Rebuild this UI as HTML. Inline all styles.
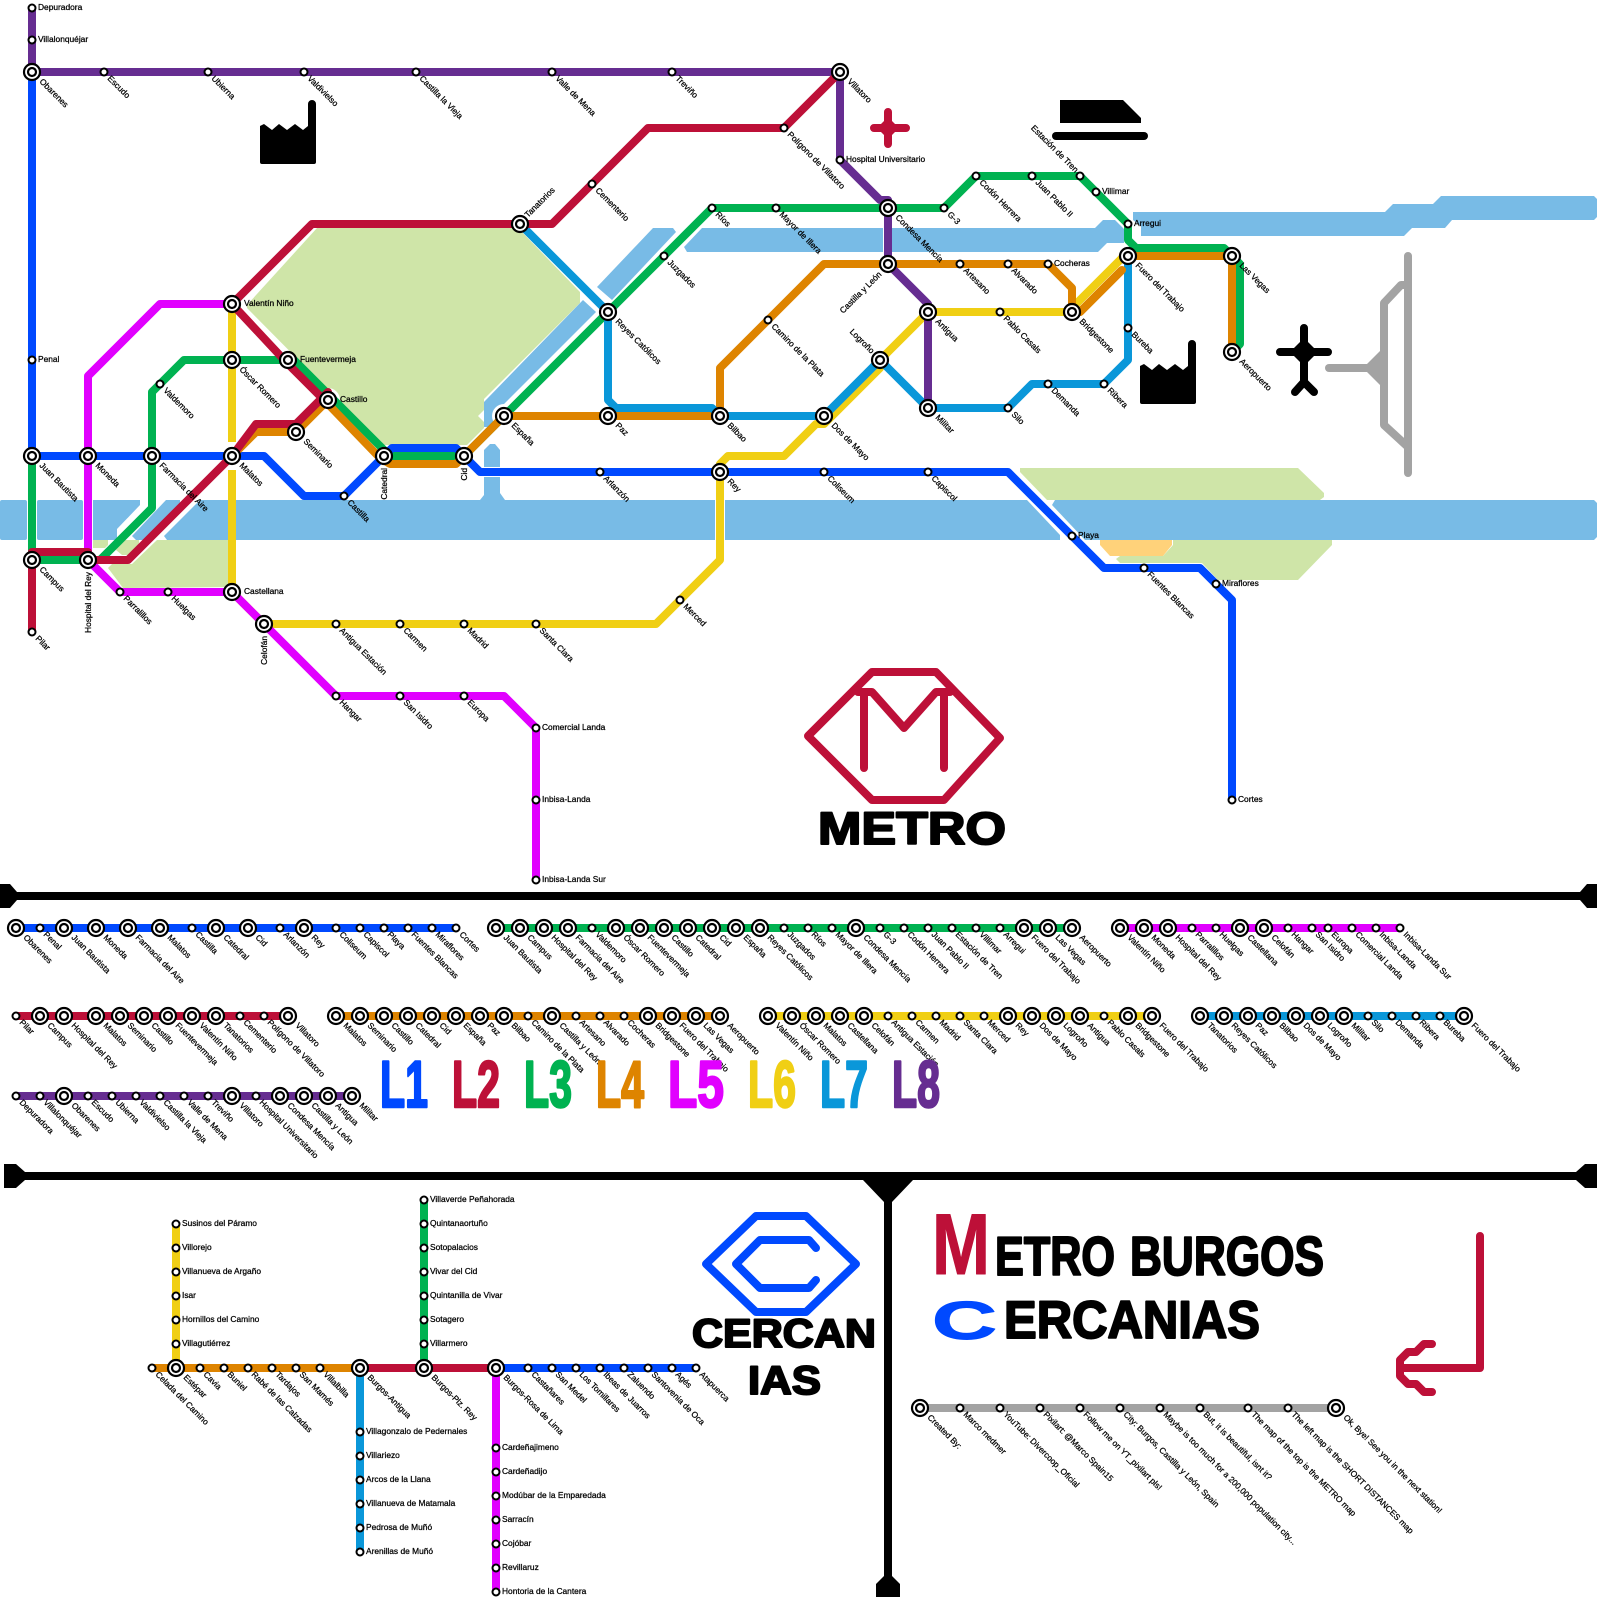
<!DOCTYPE html>
<html lang="es"><head><meta charset="utf-8"><title>Metro Burgos</title>
<style>
html,body{margin:0;padding:0;background:#fff}
svg{display:block}
.l{font-family:"Liberation Sans",sans-serif;font-size:8.4px;fill:#000;stroke:#000;stroke-width:.25px}
.e{text-anchor:end}
.t{font-family:"Liberation Sans",sans-serif;font-weight:bold;stroke-linejoin:round}
path.k{fill:none;stroke-width:8;stroke-linejoin:round;stroke-linecap:round}
</style></head><body>
<svg xmlns="http://www.w3.org/2000/svg" width="1600" height="1600" viewBox="0 0 1600 1600">
<defs>
<g id="b"><circle r="8" fill="#fff" stroke="#000" stroke-width="2.2"/><circle r="4" fill="#fff" stroke="#000" stroke-width="2.2"/></g>
<circle id="s" r="3.5" fill="#fff" stroke="#000" stroke-width="2"/>
<path id="fac" d="M0,62V26L4,24L12,30L19,24L27,30L35,24L43,30L48,26V4a4,4 0 0 1 8,0V62a2,2 0 0 1 -2,2H2a2,2 0 0 1 -2,-2Z"/>
</defs>
<rect width="1600" height="1600" fill="#fff"/>

<!-- parks -->
<g fill="#cfe5a8">
<polygon points="247,305 317,228 518,228 580,292 580,303 484,399 484,428 467,445 383,445 340,402 247,308"/>
<polygon points="157,540 228,540 228,587 123,588 108,568 112,564 132,564"/>
<polygon points="93,540 108,540 108,545 105,548 93,548"/>
<polygon points="123,540 139,540 139,543 133,555 122,555 116,550"/>
<polygon points="1020,468 1298,468 1324,493 1324,497 1320,500 1047,500 1020,472"/>
<polygon points="1173,540 1332,540 1332,545 1298,580 1218,580 1202,563 1120,563 1116,559 1120,556 1163,556 1173,545"/>
</g>
<polygon fill="#ffd27a" points="1100,540 1172,540 1172,545 1163,556 1110,556 1100,545"/>
<!-- water -->
<g fill="#78bbe6">
<rect x="0" y="500" width="27" height="40" rx="2"/>
<rect x="37" y="500" width="46" height="40" rx="2"/>
<polygon points="93,500 140,500 140,505 117,529 117,540 93,540"/>
<polygon points="166,500 180,500 180,503 147,537 143,540 136,540 132,536"/>
<polygon points="200,500 228,500 228,540 167,540 164,536"/>
<polygon points="236,500 480,500 484,495 484,477 500,477 500,493 505,500 715,500 715,540 236,540"/>
<rect x="725" y="500" width="302" height="40"/>
<polygon points="1027,500 1060,535 1060,540 725,540 725,500"/>
<polygon points="1055,500 1594,500 1597,503 1597,537 1594,540 1085,540 1052,505"/>
<polygon points="490,444 495,444 500,450 500,467 484,467 484,450"/>
<polygon points="583,300 596,312 504,404 490,427 484,427 484,402"/>
<polygon points="653,228 673,228 676,232 612,300 597,287"/>
<polygon points="702,228 883,228 883,252 687,252 684,247"/>
<polygon points="892,228 1095,228 1103,220 1115,220 1124,229 1124,243 1107,243 1098,252 892,252"/>
<polygon points="1133,212 1385,212 1393,204 1433,204 1441,196 1594,196 1597,199 1597,217 1594,220 1452,220 1445,228 1412,228 1404,236 1141,236 1141,226 1133,220"/>
</g>
<polygon fill="#fff" points="478,416 484,410 484,422"/>
<circle cx="328" cy="400" r="12" fill="#fff"/>
<circle cx="504" cy="416" r="12" fill="#fff"/>

<!-- icons -->
<use href="#fac" x="260" y="100"/>
<use href="#fac" x="1140" y="340"/>
<polygon points="1060,100 1123,100 1141,118 1141,123 1060,123"/>
<path class="k" stroke="#000" d="M1056,136H1144"/>
<path class="k" stroke="#bd1038" d="M888,112V144M874,128H906"/>
<polygon points="888,117 899,128 888,139 877,128" fill="#bd1038"/>
<path class="k" stroke="#000" d="M1304,328V382M1280,352H1328M1295,392L1304,382L1314,392"/>
<polygon points="1304,338 1318,352 1304,366 1290,352"/>
<g stroke="#a3a3a3" fill="none" stroke-width="8" stroke-linecap="round" stroke-linejoin="round">
<path d="M1408,256V473M1408,285H1401L1384,303V425L1408,447"/>
<path d="M1329,368H1370"/>
</g>
<polygon fill="#a3a3a3" points="1367,364 1381,350 1381,386 1367,372"/>

<!-- main lines -->
<g fill="none" stroke-width="8" stroke-linejoin="round">
<path stroke="#f0cf14" d="M232,304V442M232,470V592L264,624H656L720,560V464L728,456H784L816,424H824L880,368V360L928,312H1072V308L1124,256"/>
<path stroke="#e100ff" d="M232,304H160L88,376V560L120,592H232L336,696H504L536,728V880"/>
<path stroke="#00b251" d="M32,456V560H100L152,508V392L184,360H288H294L384,450L392,456H456L464,456L608,312L712,208H944L976,176H1080L1128,224V240L1136,248H1224L1240,264V344L1232,352"/>
<path stroke="#0049ff" d="M32,72V456H264L304,496H344L384,456L392,448H456L464,456L480,472H1008L1104,568H1200L1232,600V800"/>
<path stroke="#de8400" d="M232,456L256,432H296L326,402L380,458L390,464H456L464,456L504,416H720V368L824,264H1048L1072,288V312H1080L1122,270"/>
<path stroke="#de8400" d="M1128,256H1232V352"/>
<path stroke="#0a97d9" d="M520,224L608,312V400L616,408H712L720,416H824L880,360L928,408H1008L1032,384H1104L1128,360V256"/>
<path stroke="#662d91" d="M32,8V72H840V160L880,200H888V264L928,304V408"/>
<path stroke="#bd1038" d="M32,632V552H88V560H128L232,456L256,424H296L328,392V400L320,396L288,364L232,304L312,224H552L648,128H784L840,72"/>
</g>
<g stroke-linecap="round" fill="none" stroke-width="8"><path stroke="#de8400" d="M1080,312L1122,270"/></g>

<!-- main stations -->
<g>
<use href="#b" x="32" y="72"/><use href="#b" x="32" y="456"/><use href="#b" x="88" y="456"/><use href="#b" x="152" y="456"/><use href="#b" x="232" y="456"/><use href="#b" x="232" y="304"/><use href="#b" x="232" y="360"/><use href="#b" x="288" y="360"/><use href="#b" x="328" y="400"/><use href="#b" x="296" y="432"/><use href="#b" x="384" y="456"/><use href="#b" x="464" y="456"/><use href="#b" x="32" y="560"/><use href="#b" x="88" y="560"/><use href="#b" x="232" y="592"/><use href="#b" x="264" y="624"/><use href="#b" x="520" y="224"/><use href="#b" x="608" y="312"/><use href="#b" x="504" y="416"/><use href="#b" x="608" y="416"/><use href="#b" x="720" y="416"/><use href="#b" x="824" y="416"/><use href="#b" x="880" y="360"/><use href="#b" x="928" y="408"/><use href="#b" x="928" y="312"/><use href="#b" x="888" y="208"/><use href="#b" x="888" y="264"/><use href="#b" x="840" y="72"/><use href="#b" x="720" y="472"/><use href="#b" x="1072" y="312"/><use href="#b" x="1128" y="256"/><use href="#b" x="1232" y="256"/><use href="#b" x="1232" y="352"/>
<use href="#s" x="32" y="8"/><use href="#s" x="32" y="40"/><use href="#s" x="32" y="360"/><use href="#s" x="104" y="72"/><use href="#s" x="208" y="72"/><use href="#s" x="304" y="72"/><use href="#s" x="416" y="72"/><use href="#s" x="552" y="72"/><use href="#s" x="672" y="72"/><use href="#s" x="160" y="384"/><use href="#s" x="344" y="496"/><use href="#s" x="32" y="632"/><use href="#s" x="120" y="592"/><use href="#s" x="168" y="592"/><use href="#s" x="336" y="624"/><use href="#s" x="400" y="624"/><use href="#s" x="464" y="624"/><use href="#s" x="536" y="624"/><use href="#s" x="680" y="600"/><use href="#s" x="336" y="696"/><use href="#s" x="400" y="696"/><use href="#s" x="464" y="696"/><use href="#s" x="536" y="728"/><use href="#s" x="536" y="800"/><use href="#s" x="536" y="880"/><use href="#s" x="600" y="472"/><use href="#s" x="824" y="472"/><use href="#s" x="928" y="472"/><use href="#s" x="1072" y="536"/><use href="#s" x="1144" y="568"/><use href="#s" x="1216" y="584"/><use href="#s" x="1232" y="800"/><use href="#s" x="592" y="184"/><use href="#s" x="784" y="128"/><use href="#s" x="840" y="160"/><use href="#s" x="664" y="256"/><use href="#s" x="712" y="208"/><use href="#s" x="776" y="208"/><use href="#s" x="944" y="208"/><use href="#s" x="976" y="176"/><use href="#s" x="1032" y="176"/><use href="#s" x="1080" y="176"/><use href="#s" x="1096" y="192"/><use href="#s" x="1128" y="224"/><use href="#s" x="960" y="264"/><use href="#s" x="1008" y="264"/><use href="#s" x="1048" y="264"/><use href="#s" x="768" y="320"/><use href="#s" x="1000" y="312"/><use href="#s" x="1008" y="408"/><use href="#s" x="1048" y="384"/><use href="#s" x="1104" y="384"/><use href="#s" x="1128" y="328"/>
</g>
<!-- main labels -->
<g class="l">
<text x="38" y="10">Depuradora</text><text x="38" y="42">Villalonquéjar</text><text x="38" y="362">Penal</text>
<text x="846" y="162">Hospital Universitario</text><text x="1102" y="194">Villimar</text><text x="1134" y="226">Arregui</text><text x="1054" y="266">Cocheras</text><text x="1078" y="538">Playa</text><text x="1222" y="586">Miraflores</text><text x="542" y="730">Comercial Landa</text><text x="542" y="802">Inbisa-Landa</text><text x="542" y="882">Inbisa-Landa Sur</text><text x="1238" y="802">Cortes</text>
<text x="244" y="306">Valentín Niño</text><text x="300" y="362">Fuentevermeja</text><text x="340" y="402">Castillo</text><text x="244" y="594">Castellana</text>
<text class="e" transform="translate(91,572) rotate(-90)">Hospital del Rey</text><text class="e" transform="translate(387,468) rotate(-90)">Catedral</text><text class="e" transform="translate(467,468) rotate(-90)">Cid</text><text class="e" transform="translate(267,636) rotate(-90)">Celofán</text>
<text transform="translate(528,218) rotate(-45)">Tanatorios</text>
<text class="e" transform="translate(882,275) rotate(-45)">Castilla y León</text>
<text class="e" transform="translate(871,354) rotate(45)">Logroño</text>
<text class="e" transform="translate(1075,173) rotate(45)">Estación de Tren</text>
<text transform="translate(39,82) rotate(45)">Obarenes</text><text transform="translate(39,466) rotate(45)">Juan Bautista</text><text transform="translate(95,466) rotate(45)">Moneda</text><text transform="translate(159,466) rotate(45)">Farmacia del Aire</text><text transform="translate(239,466) rotate(45)">Malatos</text><text transform="translate(303,442) rotate(45)">Seminario</text><text transform="translate(239,370) rotate(45)">Óscar Romero</text><text transform="translate(39,570) rotate(45)">Campus</text><text transform="translate(615,322) rotate(45)">Reyes Católicos</text><text transform="translate(511,426) rotate(45)">España</text><text transform="translate(615,426) rotate(45)">Paz</text><text transform="translate(727,426) rotate(45)">Bilbao</text><text transform="translate(831,426) rotate(45)">Dos de Mayo</text><text transform="translate(935,418) rotate(45)">Militar</text><text transform="translate(935,322) rotate(45)">Antigua</text><text transform="translate(895,218) rotate(45)">Condesa Mencía</text><text transform="translate(847,82) rotate(45)">Villatoro</text><text transform="translate(727,482) rotate(45)">Rey</text><text transform="translate(1079,322) rotate(45)">Bridgestone</text><text transform="translate(1135,266) rotate(45)">Fuero del Trabajo</text><text transform="translate(1239,266) rotate(45)">Las Vegas</text><text transform="translate(1239,362) rotate(45)">Aeropuerto</text>
<text transform="translate(107,79) rotate(45)">Escudo</text><text transform="translate(211,79) rotate(45)">Ubierna</text><text transform="translate(307,79) rotate(45)">Valdivielso</text><text transform="translate(419,79) rotate(45)">Castilla la Vieja</text><text transform="translate(555,79) rotate(45)">Valle de Mena</text><text transform="translate(675,79) rotate(45)">Treviño</text><text transform="translate(163,391) rotate(45)">Valdemoro</text><text transform="translate(347,503) rotate(45)">Castilla</text><text transform="translate(35,639) rotate(45)">Pilar</text><text transform="translate(123,599) rotate(45)">Parralillos</text><text transform="translate(171,599) rotate(45)">Huelgas</text><text transform="translate(339,631) rotate(45)">Antigua Estación</text><text transform="translate(403,631) rotate(45)">Carmen</text><text transform="translate(467,631) rotate(45)">Madrid</text><text transform="translate(539,631) rotate(45)">Santa Clara</text><text transform="translate(683,607) rotate(45)">Merced</text><text transform="translate(339,703) rotate(45)">Hangar</text><text transform="translate(403,703) rotate(45)">San Isidro</text><text transform="translate(467,703) rotate(45)">Europa</text><text transform="translate(603,479) rotate(45)">Arlanzón</text><text transform="translate(827,479) rotate(45)">Coliseum</text><text transform="translate(931,479) rotate(45)">Capiscol</text><text transform="translate(1147,575) rotate(45)">Fuentes Blancas</text><text transform="translate(595,191) rotate(45)">Cementerio</text><text transform="translate(787,135) rotate(45)">Polígono de Villatoro</text><text transform="translate(667,263) rotate(45)">Juzgados</text><text transform="translate(715,215) rotate(45)">Ríos</text><text transform="translate(779,215) rotate(45)">Mayor de Illera</text><text transform="translate(947,215) rotate(45)">G-3</text><text transform="translate(979,183) rotate(45)">Codón Herrera</text><text transform="translate(1035,183) rotate(45)">Juan Pablo II</text><text transform="translate(963,271) rotate(45)">Artesano</text><text transform="translate(1011,271) rotate(45)">Alvarado</text><text transform="translate(771,327) rotate(45)">Camino de la Plata</text><text transform="translate(1003,319) rotate(45)">Pablo Casals</text><text transform="translate(1011,415) rotate(45)">Silo</text><text transform="translate(1051,391) rotate(45)">Demanda</text><text transform="translate(1107,391) rotate(45)">Ribera</text><text transform="translate(1131,335) rotate(45)">Bureba</text>
</g>

<!-- Metro logo -->
<path class="k" stroke="#bd1038" d="M872,672H936L1000,738L944,800H872L808,736ZM864,768V692H872L904,728L936,692H944V768M858,692H864M944,692H950"/>
<text class="t" x="818" y="844" font-size="45" stroke="#000" stroke-width="2" textLength="188" lengthAdjust="spacingAndGlyphs">METRO</text>

<!-- dividers -->
<g fill="#000">
<rect x="0" y="892" width="1590" height="8"/>
<polygon points="0,884 10,884 17,892 17,900 10,908 0,908"/>
<polygon points="1597,884 1587,884 1580,892 1580,900 1587,908 1597,908"/>
<rect x="4" y="1172" width="1592" height="8"/>
<polygon points="4,1164 16,1164 25,1172 25,1180 16,1188 4,1188"/>
<polygon points="1597,1164 1585,1164 1576,1172 1576,1180 1585,1188 1597,1188"/>
<polygon points="863,1180 913,1180 892,1202 892,1576 900,1584 900,1597 876,1597 876,1584 884,1576 884,1202"/>
</g>

<!-- strips -->
<g fill="none" stroke-width="8">
<path stroke="#0049ff" d="M16,928H456"/>
<path stroke="#00b251" d="M496,928H1072"/>
<path stroke="#e100ff" d="M1120,928H1400"/>
<path stroke="#bd1038" d="M16,1016H288"/>
<path stroke="#de8400" d="M336,1016H720"/>
<path stroke="#f0cf14" d="M768,1016H1152"/>
<path stroke="#0a97d9" d="M1200,1016H1464"/>
<path stroke="#662d91" d="M16,1096H352"/>
<path stroke="#de8400" d="M152,1368H360"/>
<path stroke="#f0cf14" d="M176,1224V1368"/>
<path stroke="#bd1038" d="M360,1368H496"/>
<path stroke="#00b251" d="M424,1200V1368"/>
<path stroke="#0049ff" d="M496,1368H696"/>
<path stroke="#0a97d9" d="M360,1368V1552"/>
<path stroke="#e100ff" d="M496,1368V1592"/>
<path stroke="#a3a3a3" d="M920,1408H1336"/>
</g>
<g>
<use href="#b" x="16" y="928"/><use href="#s" x="40" y="928"/><use href="#b" x="64" y="928"/><use href="#b" x="96" y="928"/><use href="#b" x="128" y="928"/><use href="#b" x="160" y="928"/><use href="#s" x="192" y="928"/><use href="#b" x="216" y="928"/><use href="#b" x="248" y="928"/><use href="#s" x="280" y="928"/><use href="#b" x="304" y="928"/><use href="#s" x="336" y="928"/><use href="#s" x="360" y="928"/><use href="#s" x="384" y="928"/><use href="#s" x="408" y="928"/><use href="#s" x="432" y="928"/><use href="#s" x="456" y="928"/>
<use href="#b" x="496" y="928"/><use href="#b" x="520" y="928"/><use href="#b" x="544" y="928"/><use href="#b" x="568" y="928"/><use href="#s" x="592" y="928"/><use href="#b" x="616" y="928"/><use href="#b" x="640" y="928"/><use href="#b" x="664" y="928"/><use href="#b" x="688" y="928"/><use href="#b" x="712" y="928"/><use href="#b" x="736" y="928"/><use href="#b" x="760" y="928"/><use href="#s" x="784" y="928"/><use href="#s" x="808" y="928"/><use href="#s" x="832" y="928"/><use href="#b" x="856" y="928"/><use href="#s" x="880" y="928"/><use href="#s" x="904" y="928"/><use href="#s" x="928" y="928"/><use href="#s" x="952" y="928"/><use href="#s" x="976" y="928"/><use href="#s" x="1000" y="928"/><use href="#b" x="1024" y="928"/><use href="#b" x="1048" y="928"/><use href="#b" x="1072" y="928"/>
<use href="#b" x="1120" y="928"/><use href="#b" x="1144" y="928"/><use href="#b" x="1168" y="928"/><use href="#s" x="1192" y="928"/><use href="#s" x="1216" y="928"/><use href="#b" x="1240" y="928"/><use href="#b" x="1264" y="928"/><use href="#s" x="1288" y="928"/><use href="#s" x="1312" y="928"/><use href="#s" x="1328" y="928"/><use href="#s" x="1352" y="928"/><use href="#s" x="1376" y="928"/><use href="#s" x="1400" y="928"/>
<use href="#s" x="16" y="1016"/><use href="#b" x="40" y="1016"/><use href="#b" x="64" y="1016"/><use href="#b" x="96" y="1016"/><use href="#b" x="120" y="1016"/><use href="#b" x="144" y="1016"/><use href="#b" x="168" y="1016"/><use href="#b" x="192" y="1016"/><use href="#b" x="216" y="1016"/><use href="#s" x="240" y="1016"/><use href="#s" x="264" y="1016"/><use href="#b" x="288" y="1016"/>
<use href="#b" x="336" y="1016"/><use href="#b" x="360" y="1016"/><use href="#b" x="384" y="1016"/><use href="#b" x="408" y="1016"/><use href="#b" x="432" y="1016"/><use href="#b" x="456" y="1016"/><use href="#b" x="480" y="1016"/><use href="#b" x="504" y="1016"/><use href="#s" x="528" y="1016"/><use href="#b" x="552" y="1016"/><use href="#s" x="576" y="1016"/><use href="#s" x="600" y="1016"/><use href="#s" x="624" y="1016"/><use href="#b" x="648" y="1016"/><use href="#b" x="672" y="1016"/><use href="#b" x="696" y="1016"/><use href="#b" x="720" y="1016"/>
<use href="#b" x="768" y="1016"/><use href="#b" x="792" y="1016"/><use href="#b" x="816" y="1016"/><use href="#b" x="840" y="1016"/><use href="#b" x="864" y="1016"/><use href="#s" x="888" y="1016"/><use href="#s" x="912" y="1016"/><use href="#s" x="936" y="1016"/><use href="#s" x="960" y="1016"/><use href="#s" x="984" y="1016"/><use href="#b" x="1008" y="1016"/><use href="#b" x="1032" y="1016"/><use href="#b" x="1056" y="1016"/><use href="#b" x="1080" y="1016"/><use href="#s" x="1104" y="1016"/><use href="#b" x="1128" y="1016"/><use href="#b" x="1152" y="1016"/>
<use href="#b" x="1200" y="1016"/><use href="#b" x="1224" y="1016"/><use href="#b" x="1248" y="1016"/><use href="#b" x="1272" y="1016"/><use href="#b" x="1296" y="1016"/><use href="#b" x="1320" y="1016"/><use href="#b" x="1344" y="1016"/><use href="#s" x="1368" y="1016"/><use href="#s" x="1392" y="1016"/><use href="#s" x="1416" y="1016"/><use href="#s" x="1440" y="1016"/><use href="#b" x="1464" y="1016"/>
<use href="#s" x="16" y="1096"/><use href="#s" x="40" y="1096"/><use href="#b" x="64" y="1096"/><use href="#s" x="88" y="1096"/><use href="#s" x="112" y="1096"/><use href="#s" x="136" y="1096"/><use href="#s" x="160" y="1096"/><use href="#s" x="184" y="1096"/><use href="#s" x="208" y="1096"/><use href="#b" x="232" y="1096"/><use href="#s" x="256" y="1096"/><use href="#b" x="280" y="1096"/><use href="#b" x="304" y="1096"/><use href="#b" x="328" y="1096"/><use href="#b" x="352" y="1096"/>
<use href="#s" x="152" y="1368"/><use href="#b" x="176" y="1368"/><use href="#s" x="200" y="1368"/><use href="#s" x="224" y="1368"/><use href="#s" x="248" y="1368"/><use href="#s" x="272" y="1368"/><use href="#s" x="296" y="1368"/><use href="#s" x="320" y="1368"/><use href="#b" x="360" y="1368"/><use href="#b" x="424" y="1368"/><use href="#b" x="496" y="1368"/><use href="#s" x="528" y="1368"/><use href="#s" x="552" y="1368"/><use href="#s" x="576" y="1368"/><use href="#s" x="600" y="1368"/><use href="#s" x="624" y="1368"/><use href="#s" x="648" y="1368"/><use href="#s" x="672" y="1368"/><use href="#s" x="696" y="1368"/>
<use href="#s" x="176" y="1224"/><use href="#s" x="176" y="1248"/><use href="#s" x="176" y="1272"/><use href="#s" x="176" y="1296"/><use href="#s" x="176" y="1320"/><use href="#s" x="176" y="1344"/>
<use href="#s" x="424" y="1200"/><use href="#s" x="424" y="1224"/><use href="#s" x="424" y="1248"/><use href="#s" x="424" y="1272"/><use href="#s" x="424" y="1296"/><use href="#s" x="424" y="1320"/><use href="#s" x="424" y="1344"/>
<use href="#s" x="360" y="1432"/><use href="#s" x="360" y="1456"/><use href="#s" x="360" y="1480"/><use href="#s" x="360" y="1504"/><use href="#s" x="360" y="1528"/><use href="#s" x="360" y="1552"/>
<use href="#s" x="496" y="1448"/><use href="#s" x="496" y="1472"/><use href="#s" x="496" y="1496"/><use href="#s" x="496" y="1520"/><use href="#s" x="496" y="1544"/><use href="#s" x="496" y="1568"/><use href="#s" x="496" y="1592"/>
<use href="#b" x="920" y="1408"/><use href="#s" x="960" y="1408"/><use href="#s" x="1000" y="1408"/><use href="#s" x="1040" y="1408"/><use href="#s" x="1080" y="1408"/><use href="#s" x="1120" y="1408"/><use href="#s" x="1160" y="1408"/><use href="#s" x="1200" y="1408"/><use href="#s" x="1248" y="1408"/><use href="#s" x="1288" y="1408"/><use href="#b" x="1336" y="1408"/>
</g>
<g class="l">
<!-- L1 -->
<text transform="translate(23,938) rotate(45)">Obarenes</text><text transform="translate(43,935) rotate(45)">Penal</text><text transform="translate(71,938) rotate(45)">Juan Bautista</text><text transform="translate(103,938) rotate(45)">Moneda</text><text transform="translate(135,938) rotate(45)">Farmacia del Aire</text><text transform="translate(167,938) rotate(45)">Malatos</text><text transform="translate(195,935) rotate(45)">Castilla</text><text transform="translate(223,938) rotate(45)">Catedral</text><text transform="translate(255,938) rotate(45)">Cid</text><text transform="translate(283,935) rotate(45)">Arlanzón</text><text transform="translate(311,938) rotate(45)">Rey</text><text transform="translate(339,935) rotate(45)">Coliseum</text><text transform="translate(363,935) rotate(45)">Capiscol</text><text transform="translate(387,935) rotate(45)">Playa</text><text transform="translate(411,935) rotate(45)">Fuentes Blancas</text><text transform="translate(435,935) rotate(45)">Miraflores</text><text transform="translate(459,935) rotate(45)">Cortes</text>
<!-- L3 -->
<text transform="translate(503,938) rotate(45)">Juan Bautista</text><text transform="translate(527,938) rotate(45)">Campus</text><text transform="translate(551,938) rotate(45)">Hospital del Rey</text><text transform="translate(575,938) rotate(45)">Farmacia del Aire</text><text transform="translate(595,935) rotate(45)">Valdemoro</text><text transform="translate(623,938) rotate(45)">Óscar Romero</text><text transform="translate(647,938) rotate(45)">Fuentevermeja</text><text transform="translate(671,938) rotate(45)">Castillo</text><text transform="translate(695,938) rotate(45)">Catedral</text><text transform="translate(719,938) rotate(45)">Cid</text><text transform="translate(743,938) rotate(45)">España</text><text transform="translate(767,938) rotate(45)">Reyes Católicos</text><text transform="translate(787,935) rotate(45)">Juzgados</text><text transform="translate(811,935) rotate(45)">Ríos</text><text transform="translate(835,935) rotate(45)">Mayor de Illera</text><text transform="translate(863,938) rotate(45)">Condesa Mencía</text><text transform="translate(883,935) rotate(45)">G-3</text><text transform="translate(907,935) rotate(45)">Codón Herrera</text><text transform="translate(931,935) rotate(45)">Juan Pablo II</text><text transform="translate(955,935) rotate(45)">Estación de Tren</text><text transform="translate(979,935) rotate(45)">Villimar</text><text transform="translate(1003,935) rotate(45)">Arregui</text><text transform="translate(1031,938) rotate(45)">Fuero del Trabajo</text><text transform="translate(1055,938) rotate(45)">Las Vegas</text><text transform="translate(1079,938) rotate(45)">Aeropuerto</text>
<!-- L5 -->
<text transform="translate(1127,938) rotate(45)">Valentín Niño</text><text transform="translate(1151,938) rotate(45)">Moneda</text><text transform="translate(1175,938) rotate(45)">Hospital del Rey</text><text transform="translate(1195,935) rotate(45)">Parralillos</text><text transform="translate(1219,935) rotate(45)">Huelgas</text><text transform="translate(1247,938) rotate(45)">Castellana</text><text transform="translate(1271,938) rotate(45)">Celofán</text><text transform="translate(1291,935) rotate(45)">Hangar</text><text transform="translate(1315,935) rotate(45)">San Isidro</text><text transform="translate(1331,935) rotate(45)">Europa</text><text transform="translate(1355,935) rotate(45)">Comercial Landa</text><text transform="translate(1379,935) rotate(45)">Inbisa-Landa</text><text transform="translate(1403,935) rotate(45)">Inbisa-Landa Sur</text>
<!-- L2 -->
<text transform="translate(19,1023) rotate(45)">Pilar</text><text transform="translate(47,1026) rotate(45)">Campus</text><text transform="translate(71,1026) rotate(45)">Hospital del Rey</text><text transform="translate(103,1026) rotate(45)">Malatos</text><text transform="translate(127,1026) rotate(45)">Seminario</text><text transform="translate(151,1026) rotate(45)">Castillo</text><text transform="translate(175,1026) rotate(45)">Fuentevermeja</text><text transform="translate(199,1026) rotate(45)">Valentín Niño</text><text transform="translate(223,1026) rotate(45)">Tanatorios</text><text transform="translate(243,1023) rotate(45)">Cementerio</text><text transform="translate(267,1023) rotate(45)">Polígono de Villatoro</text><text transform="translate(295,1026) rotate(45)">Villatoro</text>
<!-- L4 -->
<text transform="translate(343,1026) rotate(45)">Malatos</text><text transform="translate(367,1026) rotate(45)">Seminario</text><text transform="translate(391,1026) rotate(45)">Castillo</text><text transform="translate(415,1026) rotate(45)">Catedral</text><text transform="translate(439,1026) rotate(45)">Cid</text><text transform="translate(463,1026) rotate(45)">España</text><text transform="translate(487,1026) rotate(45)">Paz</text><text transform="translate(511,1026) rotate(45)">Bilbao</text><text transform="translate(531,1023) rotate(45)">Camino de la Plata</text><text transform="translate(559,1026) rotate(45)">Castilla y León</text><text transform="translate(579,1023) rotate(45)">Artesano</text><text transform="translate(603,1023) rotate(45)">Alvarado</text><text transform="translate(627,1023) rotate(45)">Cocheras</text><text transform="translate(655,1026) rotate(45)">Bridgestone</text><text transform="translate(679,1026) rotate(45)">Fuero del Trabajo</text><text transform="translate(703,1026) rotate(45)">Las Vegas</text><text transform="translate(727,1026) rotate(45)">Aeropuerto</text>
<!-- L6 -->
<text transform="translate(775,1026) rotate(45)">Valentín Niño</text><text transform="translate(799,1026) rotate(45)">Óscar Romero</text><text transform="translate(823,1026) rotate(45)">Malatos</text><text transform="translate(847,1026) rotate(45)">Castellana</text><text transform="translate(871,1026) rotate(45)">Celofán</text><text transform="translate(891,1023) rotate(45)">Antigua Estación</text><text transform="translate(915,1023) rotate(45)">Carmen</text><text transform="translate(939,1023) rotate(45)">Madrid</text><text transform="translate(963,1023) rotate(45)">Santa Clara</text><text transform="translate(987,1023) rotate(45)">Merced</text><text transform="translate(1015,1026) rotate(45)">Rey</text><text transform="translate(1039,1026) rotate(45)">Dos de Mayo</text><text transform="translate(1063,1026) rotate(45)">Logroño</text><text transform="translate(1087,1026) rotate(45)">Antigua</text><text transform="translate(1107,1023) rotate(45)">Pablo Casals</text><text transform="translate(1135,1026) rotate(45)">Bridgestone</text><text transform="translate(1159,1026) rotate(45)">Fuero del Trabajo</text>
<!-- L7 -->
<text transform="translate(1207,1026) rotate(45)">Tanatorios</text><text transform="translate(1231,1026) rotate(45)">Reyes Católicos</text><text transform="translate(1255,1026) rotate(45)">Paz</text><text transform="translate(1279,1026) rotate(45)">Bilbao</text><text transform="translate(1303,1026) rotate(45)">Dos de Mayo</text><text transform="translate(1327,1026) rotate(45)">Logroño</text><text transform="translate(1351,1026) rotate(45)">Militar</text><text transform="translate(1371,1023) rotate(45)">Silo</text><text transform="translate(1395,1023) rotate(45)">Demanda</text><text transform="translate(1419,1023) rotate(45)">Ribera</text><text transform="translate(1443,1023) rotate(45)">Bureba</text><text transform="translate(1471,1026) rotate(45)">Fuero del Trabajo</text>
<!-- L8 -->
<text transform="translate(19,1103) rotate(45)">Depuradora</text><text transform="translate(43,1103) rotate(45)">Villalonquéjar</text><text transform="translate(71,1106) rotate(45)">Obarenes</text><text transform="translate(91,1103) rotate(45)">Escudo</text><text transform="translate(115,1103) rotate(45)">Ubierna</text><text transform="translate(139,1103) rotate(45)">Valdivielso</text><text transform="translate(163,1103) rotate(45)">Castilla la Vieja</text><text transform="translate(187,1103) rotate(45)">Valle de Mena</text><text transform="translate(211,1103) rotate(45)">Treviño</text><text transform="translate(239,1106) rotate(45)">Villatoro</text><text transform="translate(259,1103) rotate(45)">Hospital Universitario</text><text transform="translate(287,1106) rotate(45)">Condesa Mencía</text><text transform="translate(311,1106) rotate(45)">Castilla y León</text><text transform="translate(335,1106) rotate(45)">Antigua</text><text transform="translate(359,1106) rotate(45)">Militar</text>
<!-- Cercanias -->
<text transform="translate(155,1375) rotate(45)">Celada del Camino</text><text transform="translate(183,1378) rotate(45)">Estépar</text><text transform="translate(203,1375) rotate(45)">Cavia</text><text transform="translate(227,1375) rotate(45)">Buniel</text><text transform="translate(251,1375) rotate(45)">Rabé de las Calzadas</text><text transform="translate(275,1375) rotate(45)">Tardajos</text><text transform="translate(299,1375) rotate(45)">San Mamés</text><text transform="translate(323,1375) rotate(45)">Villalbilla</text><text transform="translate(367,1378) rotate(45)">Burgos-Antigua</text><text transform="translate(431,1378) rotate(45)">Burgos-Plz. Rey</text><text transform="translate(503,1378) rotate(45)">Burgos-Rosa de Lima</text><text transform="translate(531,1375) rotate(45)">Castañares</text><text transform="translate(555,1375) rotate(45)">San Medel</text><text transform="translate(579,1375) rotate(45)">Los Tomillares</text><text transform="translate(603,1375) rotate(45)">Ibeas de Juarros</text><text transform="translate(627,1375) rotate(45)">Zaluendo</text><text transform="translate(651,1375) rotate(45)">Santovenia de Oca</text><text transform="translate(675,1375) rotate(45)">Agés</text><text transform="translate(699,1375) rotate(45)">Atapuerca</text>
<text x="182" y="1226">Susinos del Páramo</text><text x="182" y="1250">Villorejo</text><text x="182" y="1274">Villanueva de Argaño</text><text x="182" y="1298">Isar</text><text x="182" y="1322">Hornillos del Camino</text><text x="182" y="1346">Villagutiérrez</text>
<text x="430" y="1202">Villaverde Peñahorada</text><text x="430" y="1226">Quintanaortuño</text><text x="430" y="1250">Sotopalacios</text><text x="430" y="1274">Vivar del Cid</text><text x="430" y="1298">Quintanilla de Vivar</text><text x="430" y="1322">Sotagero</text><text x="430" y="1346">Villarmero</text>
<text x="366" y="1434">Villagonzalo de Pedernales</text><text x="366" y="1458">Villariezo</text><text x="366" y="1482">Arcos de la Llana</text><text x="366" y="1506">Villanueva de Matamala</text><text x="366" y="1530">Pedrosa de Muñó</text><text x="366" y="1554">Arenillas de Muñó</text>
<text x="502" y="1450">Cardeñajimeno</text><text x="502" y="1474">Cardeñadijo</text><text x="502" y="1498">Modúbar de la Emparedada</text><text x="502" y="1522">Sarracín</text><text x="502" y="1546">Cojóbar</text><text x="502" y="1570">Revillaruz</text><text x="502" y="1594">Hontoria de la Cantera</text>
<!-- gray -->
<text transform="translate(927,1418) rotate(45)">Created By:</text><text transform="translate(963,1415) rotate(45)">Marco medmer</text><text transform="translate(1003,1415) rotate(45)">YouTube: Divercoop_Oficial</text><text transform="translate(1043,1415) rotate(45)">Pixilart: @Marco Spain15</text><text transform="translate(1083,1415) rotate(45)">Follow me on YT_pixilart pls!</text><text transform="translate(1123,1415) rotate(45)">City: Burgos, Castilla y León, Spain</text><text transform="translate(1163,1415) rotate(45)">Maybe is too much for a 200,000 population city...</text><text transform="translate(1203,1415) rotate(45)">But, it is beautiful, isnt it?</text><text transform="translate(1251,1415) rotate(45)">The map of the top is the METRO map</text><text transform="translate(1291,1415) rotate(45)">The left map is the SHORT DISTANCES map</text><text transform="translate(1343,1418) rotate(45)">Ok, Bye! See you in the next station!</text>
</g>

<!-- line badges -->
<g class="t" font-size="66" stroke-width="2.5">
<text x="380" y="1107" fill="#0049ff" stroke="#0049ff" textLength="48" lengthAdjust="spacingAndGlyphs">L1</text>
<text x="452" y="1107" fill="#bd1038" stroke="#bd1038" textLength="48" lengthAdjust="spacingAndGlyphs">L2</text>
<text x="524" y="1107" fill="#00b251" stroke="#00b251" textLength="48" lengthAdjust="spacingAndGlyphs">L3</text>
<text x="596" y="1107" fill="#de8400" stroke="#de8400" textLength="48" lengthAdjust="spacingAndGlyphs">L4</text>
<text x="668" y="1107" fill="#e100ff" stroke="#e100ff" textLength="56" lengthAdjust="spacingAndGlyphs">L5</text>
<text x="748" y="1107" fill="#f0cf14" stroke="#f0cf14" textLength="48" lengthAdjust="spacingAndGlyphs">L6</text>
<text x="820" y="1107" fill="#0a97d9" stroke="#0a97d9" textLength="48" lengthAdjust="spacingAndGlyphs">L7</text>
<text x="892" y="1107" fill="#662d91" stroke="#662d91" textLength="48" lengthAdjust="spacingAndGlyphs">L8</text>
</g>

<!-- cercanias logo -->
<path class="k" stroke="#0049ff" d="M756,1216H806L856,1264L806,1312H756L706,1264ZM816,1248L809,1240H760L736,1264L760,1288H809L816,1280"/>
<text class="t" x="692" y="1347" font-size="40" stroke="#000" stroke-width="2" textLength="184" lengthAdjust="spacingAndGlyphs">CERCAN</text>
<text class="t" x="748" y="1394" font-size="40" stroke="#000" stroke-width="2" textLength="73" lengthAdjust="spacingAndGlyphs">IAS</text>

<!-- titles -->
<text class="t" x="932" y="1274" font-size="86" fill="#bd1038" stroke="#bd1038" stroke-width="1" textLength="58" lengthAdjust="spacingAndGlyphs">M</text>
<text class="t" x="995" y="1275" font-size="55" stroke="#000" stroke-width="2" textLength="120" lengthAdjust="spacingAndGlyphs">ETRO</text>
<text class="t" x="1130" y="1275" font-size="55" stroke="#000" stroke-width="2" textLength="194" lengthAdjust="spacingAndGlyphs">BURGOS</text>
<text class="t" x="932" y="1339" font-size="54" fill="#0049ff" stroke="#0049ff" stroke-width="1" textLength="65" lengthAdjust="spacingAndGlyphs">C</text>
<text class="t" x="1004" y="1338" font-size="53" stroke="#000" stroke-width="2" textLength="256" lengthAdjust="spacingAndGlyphs">ERCANIAS</text>

<!-- arrow -->
<path class="k" stroke="#bd1038" d="M1480,1236V1368H1400M1432,1344H1424L1416,1352H1408L1400,1360V1376L1408,1384H1416L1424,1392H1432"/>
</svg>
</body></html>
